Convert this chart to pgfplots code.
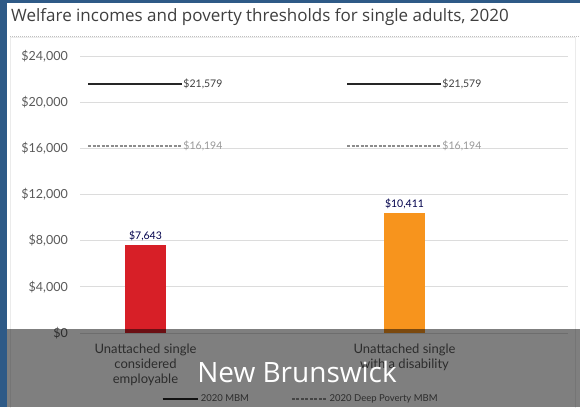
\documentclass[border=0pt]{standalone}
\usepackage{pgfplots}
\pgfplotsset{compat=1.18}
\usepackage{fontspec}
\setmainfont{Lato}
\newfontfamily\titlefont{Open Sans}
\definecolor{bgblue}{HTML}{2E5A87}
\definecolor{titlegray}{HTML}{3F3F3F}
\definecolor{gridgray}{HTML}{DCDCDC}
\definecolor{labelgray}{HTML}{5A5A5A}
\definecolor{barred}{HTML}{D71F27}
\definecolor{barorange}{HTML}{F7941D}
\definecolor{deepgray}{HTML}{8C8C8C}
\begin{document}
\begin{tikzpicture}[x=1pt,y=1pt]
\useasboundingbox (0pt,0pt) rectangle (580pt,407pt);
\fill[bgblue] (0pt,0pt) rectangle (580pt,407pt);
\fill[white] (7pt,0pt) rectangle (580pt,404pt);
\draw[black!8, line width=0.8pt] (10.5pt,-1pt) -- (10.5pt,370pt) -- (575.5pt,370pt) -- (575.5pt,-1pt);
\draw[black!25, dash pattern=on 1pt off 1pt] (10pt,371pt) -- (580pt,371pt);
\node[anchor=west, font=\titlefont\fontsize{17}{20}\selectfont, text=titlegray, inner sep=0pt] at (11pt,390pt) {Welfare incomes and poverty thresholds for single adults, 2020};
\begin{axis}[
  at={(80pt,74pt)}, anchor=south west,
  width=488pt, height=277pt, scale only axis,
  xmin=-0.2529, xmax=1.6313, ymin=0, ymax=24000,
  scaled y ticks=false,
  axis line style={draw=none}, tick style={draw=none},
  ymajorgrids, grid style={color=gridgray, line width=0.9pt},
  ytick={0,4000,8000,12000,16000,20000,24000},
  yticklabels={\$0,{\$4,000},{\$8,000},{\$12,000},{\$16,000},{\$20,000},{\$24,000}},
  yticklabel style={font=\fontsize{12.5}{14}\selectfont, text=labelgray, inner sep=0pt, anchor=east},
  yticklabel shift=12pt,
  xtick={0,1},
  xticklabels={{Unattached single\\considered\\employable},{Unattached single\\with a disability}},
  xticklabel style={font=\fontsize{13}{15}\selectfont, text=labelgray, align=center, anchor=north, inner sep=0pt},
  xticklabel shift=11pt,
  legend columns=2,
  legend style={at={(0.452,-0.238)}, anchor=center, draw=none, fill=none,
    font=\fontsize{9.5}{11}\selectfont, text=labelgray,
    /tikz/every even column/.append style={column sep=40pt}},
  legend image code/.code={\draw[#1] (0pt,0pt) -- (35pt,0pt);},
]
\addplot[ybar, bar width=41pt, bar shift=0pt, fill=barred, draw=none, forget plot] coordinates {(0,7643)};
\addplot[ybar, bar width=41pt, bar shift=0pt, fill=barorange, draw=none, forget plot] coordinates {(1,10411)};
\addplot[black!85, line width=2.2pt] coordinates {(-0.222,21579) (0.142,21579)};
\addlegendentry{2020 MBM}
\addplot[deepgray, line width=1.6pt, dash pattern=on 3pt off 1.5pt] coordinates {(-0.222,16194) (0.142,16194)};
\addlegendentry{2020 Deep Poverty MBM}
\addplot[black!85, line width=2.2pt, forget plot] coordinates {(0.778,21579) (1.142,21579)};
\addplot[deepgray, line width=1.6pt, dash pattern=on 3pt off 1.5pt, forget plot] coordinates {(0.778,16194) (1.142,16194)};
\node[anchor=west, inner sep=1pt, font=\fontsize{10.5}{12}\selectfont, text=black!75] at (axis cs:0.142,21579) {\$21,579};
\node[anchor=west, inner sep=1pt, font=\fontsize{10.5}{12}\selectfont, text=black!75] at (axis cs:1.142,21579) {\$21,579};
\node[anchor=west, inner sep=1pt, font=\fontsize{10.5}{12}\selectfont, text=black!40] at (axis cs:0.142,16194) {\$16,194};
\node[anchor=west, inner sep=1pt, font=\fontsize{10.5}{12}\selectfont, text=black!40] at (axis cs:1.142,16194) {\$16,194};
\node[anchor=base, inner sep=0pt, yshift=5pt, font=\fontsize{10.5}{12}\selectfont, text=black!70!blue] at (axis cs:0,7643) {\$7,643};
\node[anchor=base, inner sep=0pt, yshift=5pt, font=\fontsize{10.5}{12}\selectfont, text=black!70!blue] at (axis cs:1,10411) {\$10,411};
\end{axis}
\fill[black, opacity=0.5] (7pt,0pt) rectangle (580pt,78pt);
\node[text=white, font=\titlefont\fontsize{28}{34}\selectfont, inner sep=0pt] at (297pt,35pt) {New Brunswick};
\end{tikzpicture}
\end{document}
